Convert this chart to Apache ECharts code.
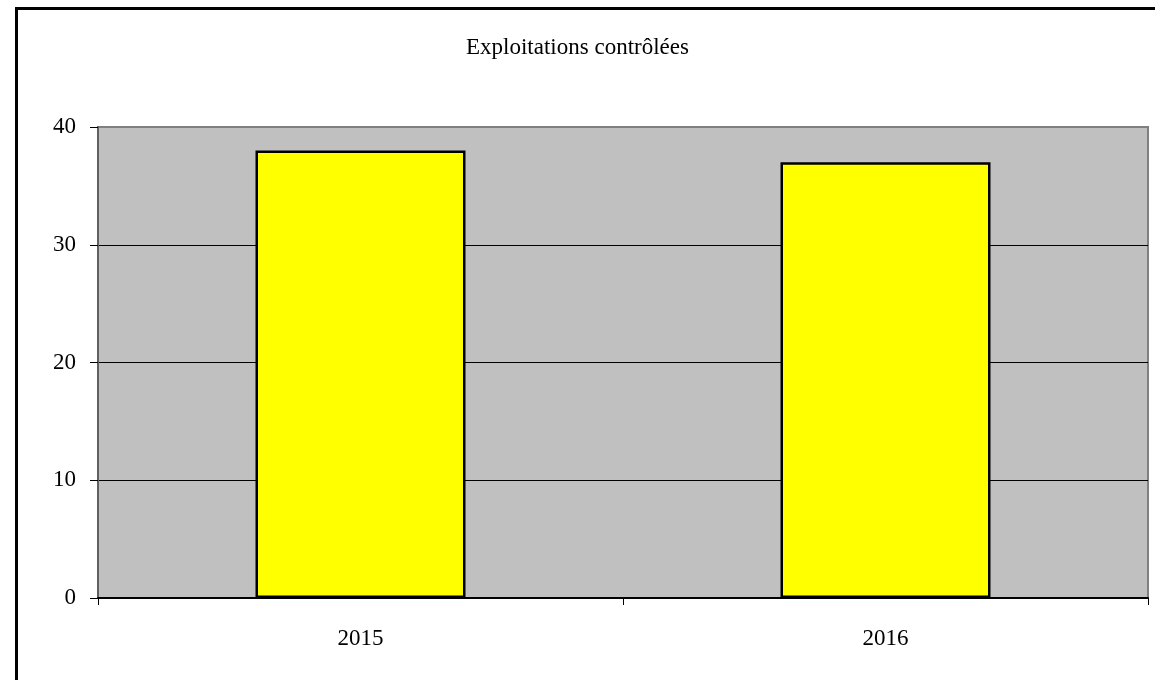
<!DOCTYPE html>
<html><head><meta charset="utf-8">
<script src="https://cdn.jsdelivr.net/npm/echarts@6/dist/echarts.min.js"></script>
<style>html,body{margin:0;padding:0;background:#fff}#c{width:1155px;height:680px}</style>
</head><body><div id="c"></div>
<script>
const titleText = "Exploitations contrôlées";
const categories = ["2015", "2016"];
const values = [38, 37];
const yTicks = [0, 10, 20, 30, 40];

const chart = echarts.init(document.getElementById('c'), null, {renderer: 'canvas'});
const font = '"Liberation Serif", "Times New Roman", serif';
chart.setOption({
  animation: false,
  backgroundColor: '#fff',
  title: {
    text: titleText, left: 'center', top: 31,
    textStyle: {fontFamily: font, fontSize: 23, fontWeight: 'normal', color: '#000'}
  },
  graphic: [{
    type: 'rect', left: 14, top: 6, z: 100,
    shape: {width: 1160, height: 700},
    style: {fill: 'none', stroke: '#000', lineWidth: 3}
  }],
  grid: {
    left: 98, right: 7, top: 127, bottom: 82, containLabel: false,
    show: true, backgroundColor: '#C0C0C0', borderColor: '#808080', borderWidth: 2
  },
  xAxis: {
    type: 'category', data: categories,
    axisLine: {lineStyle: {color: '#000', width: 2}},
    axisTick: {show: true, length: 7, lineStyle: {color: '#000', width: 1}},
    axisLabel: {fontFamily: font, fontSize: 23, color: '#000', margin: 29}
  },
  yAxis: {
    type: 'value', min: yTicks[0], max: yTicks[yTicks.length - 1], interval: 10,
    axisLine: {show: true, lineStyle: {color: '#606060', width: 2}},
    axisTick: {show: true, length: 8, lineStyle: {color: '#000', width: 1}},
    axisLabel: {fontFamily: font, fontSize: 23, color: '#000', margin: 22},
    splitLine: {show: true, lineStyle: {color: ['#000', '#000', '#000', '#000', '#808080'], width: 1}}
  },
  series: [{
    type: 'bar', data: values, barWidth: '40%',
    itemStyle: {color: '#FFFF00', borderColor: '#000', borderWidth: 2.5}
  }]
});
</script></body></html>
